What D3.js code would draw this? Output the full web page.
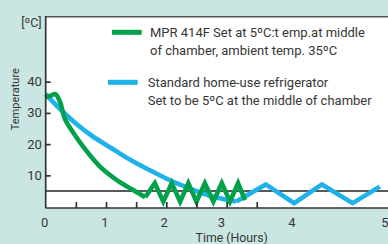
<!DOCTYPE html>
<html>
<head>
<meta charset="utf-8">
<script src="https://cdn.jsdelivr.net/npm/d3@7"></script>
<style>
  html, body { margin: 0; padding: 0; background: #c9e6e3; }
  svg { display: block; }
  text { font-family: Roboto, "Liberation Sans", sans-serif; fill: #363636; }
</style>
</head>
<body>
<svg id="chart" width="388" height="244"></svg>
<script>
// ---- data ----
const xTickHours = [0.5, 1, 1.5, 2, 2.5, 3, 3.5];
const xTickLabels = [0, 1, 2, 3, 4, 5];
const yTickValues = [10, 20, 30, 40];
const setPoint = 5;

// MPR 414F (green): smooth pull-down, then on/off cycling
const mprHours = [0.0, 0.08, 0.16, 0.24, 0.32, 0.47, 0.62, 0.90, 1.18, 1.45, 1.65,
                  1.81, 1.95, 2.09, 2.23, 2.365, 2.50, 2.64, 2.78, 2.92, 3.056, 3.19, 3.305];
const mprTemp  = [35.0, 35.5, 36.0, 33.4, 28.0, 23.3, 19.2, 12.8, 8.5, 5.3, 3.0,
                  7.5, 1.6, 7.5, 1.6, 7.5, 1.6, 7.5, 1.6, 7.5, 1.6, 7.5, 2.1];
const mprSmoothEnd = 10; // index where cycling starts

// Standard home-use refrigerator (blue)
const stdHours = [0.0, 0.25, 0.5, 0.77, 1.10, 1.4, 1.72, 2.0, 2.23, 2.56, 2.85, 3.16,
                  3.65, 4.12, 4.58, 5.09, 5.54];
const stdTemp  = [36.0, 31.0, 26.6, 22.6, 18.6, 15.0, 11.7, 9.0, 7.0, 4.5, 2.8, 1.6,
                  7.1, 1.1, 7.1, 1.1, 6.4];
const stdSmoothEnd = 11;

const legendMpr = ["MPR 414F Set at 5ºC:t emp.at middle", "of chamber, ambient temp. 35ºC"];
const legendStd = ["Standard home-use refrigerator", "Set to be 5ºC at the middle of chamber"];

// ---- drawing ----
const svg = d3.select("#chart");
const W = 388, H = 244;
const plotLeft = 45.7, plotTop = 16.7, plotBottom = 208;

const x = d3.scaleLinear().domain([0, 5.7]).range([plotLeft, plotLeft + 60.3 * 5.7]);
const y = d3.scaleLinear().domain([-0.45, 60.8]).range([plotBottom, plotTop]);
// label positions of the hour numbers (the original spaces them unevenly after 3)
const labelPos = d3.scaleLinear().domain([0, 1, 2, 3, 4, 5]).range([0, 1.0, 1.98, 2.93, 4.1, 5.64]);

const green = "#00a14b", blue = "#1fb2ea", axisCol = "#333";

// plot background
svg.append("rect").attr("x", plotLeft).attr("y", plotTop).attr("width", W - plotLeft).attr("height", plotBottom - plotTop).attr("fill", "#fff");

// top border
svg.append("line").attr("x1", plotLeft).attr("x2", W).attr("y1", plotTop).attr("y2", plotTop)
  .attr("stroke", "#555").attr("stroke-width", 1.5);

// set point line
svg.append("line").attr("x1", plotLeft).attr("x2", W).attr("y1", y(setPoint)).attr("y2", y(setPoint))
  .attr("stroke", "#222").attr("stroke-width", 1.4);

// series
function drawSeries(hours, temps, splitIdx, color) {
  const pts = hours.map((h, i) => [h, temps[i]]);
  const smooth = d3.line().x(d => x(d[0])).y(d => y(d[1])).curve(d3.curveCatmullRom.alpha(0.5));
  const lin = d3.line().x(d => x(d[0])).y(d => y(d[1])).curve(d3.curveLinear);
  const g = svg.append("g").attr("fill", "none").attr("stroke", color).attr("stroke-width", 4.6);
  g.append("path").attr("d", smooth(pts.slice(0, splitIdx + 1))).attr("stroke-linejoin", "round");
  g.append("path").attr("d", lin(pts.slice(splitIdx))).attr("stroke-linejoin", "miter").attr("stroke-miterlimit", 10);
}
drawSeries(stdHours, stdTemp, stdSmoothEnd, blue);
drawSeries(mprHours, mprTemp, mprSmoothEnd, green);

// axes lines
svg.append("line").attr("x1", plotLeft).attr("x2", plotLeft).attr("y1", plotTop - 0.7).attr("y2", plotBottom)
  .attr("stroke", axisCol).attr("stroke-width", 1.7);
svg.append("line").attr("x1", plotLeft).attr("x2", W).attr("y1", plotBottom).attr("y2", plotBottom)
  .attr("stroke", axisCol).attr("stroke-width", 1.7);

// y ticks (inward) + labels
const yAxis = d3.axisRight(y).tickValues(yTickValues).tickSize(5).tickFormat("");
const yg = svg.append("g").attr("transform", `translate(${plotLeft},0)`).call(yAxis);
yg.select(".domain").remove();
yg.selectAll(".tick line").attr("stroke", axisCol).attr("stroke-width", 1.7);
svg.selectAll(".ylab").data(yTickValues).enter().append("text")
  .attr("x", 41.8).attr("y", d => y(d) + 4.6).attr("text-anchor", "end")
  .style("font-size", "13px").text(d => d);

// x ticks (inward)
const xAxis = d3.axisTop(x).tickValues(xTickHours).tickSize(6).tickFormat("");
const xg = svg.append("g").attr("transform", `translate(0,${plotBottom})`).call(xAxis);
xg.select(".domain").remove();
xg.selectAll(".tick line").attr("stroke", axisCol).attr("stroke-width", 1.7);
svg.selectAll(".xlab").data(xTickLabels).enter().append("text")
  .attr("x", d => x(labelPos(d)) - 1).attr("y", 226.7).attr("text-anchor", "middle")
  .style("font-size", "13px").text(d => d);

// axis titles
svg.append("text").attr("x", 231.7).attr("y", 241.8).attr("text-anchor", "middle")
  .style("font-size", "12.3px").text("Time (Hours)");
svg.append("text").attr("transform", "translate(18.8,99.2) rotate(-90)").attr("text-anchor", "middle")
  .style("font-size", "11px").text("Temperature");
svg.append("text").attr("x", 41.7).attr("y", 27).attr("text-anchor", "end")
  .style("font-size", "12.5px").text("[ºC]");

// legend
function legendItem(x1, x2, ly, tx, ty, lines, color) {
  svg.append("line").attr("x1", x1).attr("x2", x2).attr("y1", ly).attr("y2", ly)
    .attr("stroke", color).attr("stroke-width", 5);
  lines.forEach((t, i) => {
    svg.append("text").attr("x", tx).attr("y", ty + i * 17.5).style("font-size", "13px").text(t);
  });
}
legendItem(112, 141.7, 32.3, 150, 37.3, legendMpr, green);
legendItem(108, 137.7, 82.3, 147.7, 87.3, legendStd, blue);
</script>
</body>
</html>
